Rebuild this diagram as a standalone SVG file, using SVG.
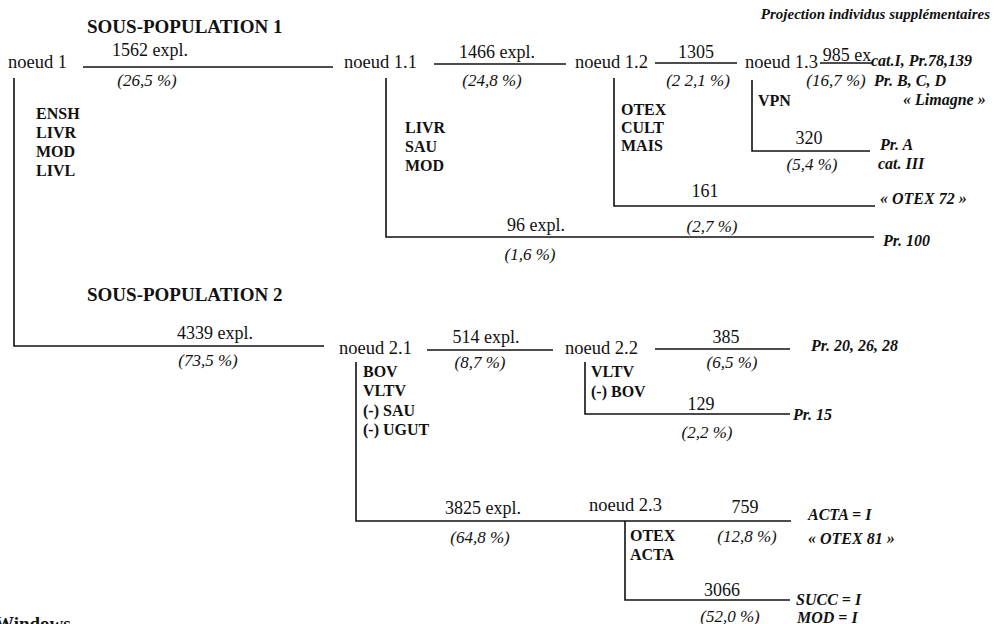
<svg xmlns="http://www.w3.org/2000/svg" width="994" height="624" viewBox="0 0 994 624" font-family="'Liberation Serif','Times New Roman',serif">
<style>
text{font-family:"Liberation Serif","Times New Roman",serif;fill:#111}
.n{font-size:18.5px}
.c{font-size:18px;text-anchor:middle}
.p{font-size:17px;font-style:italic;text-anchor:middle}
.v{font-size:16px;font-weight:bold}
.h{font-size:19px;font-weight:bold}
.r{font-size:16px;font-weight:bold;font-style:italic}
.ln{stroke:#111;stroke-width:1.6;fill:none}
</style>
<rect width="994" height="624" fill="#fff"/>
<g id="titles">
<text class="h" x="87" y="33">SOUS-POPULATION 1</text>
<text class="r" x="990" y="19" text-anchor="end" style="font-size:15px">Projection individus supplémentaires</text>
<text class="h" x="87" y="301">SOUS-POPULATION 2</text>
<text class="h" x="-5" y="630">Windows</text>
</g>
<g id="connectors" class="ln">
<path d="M83 67H333"/>
<path d="M14 78V346H324"/>
<path d="M434 64H566"/>
<path d="M386 78V237H874"/>
<path d="M655 63H737"/>
<path d="M614 78V206H875"/>
<path d="M820 63H872"/>
<path d="M752 80V151H870"/>
<path d="M427 350H553"/>
<path d="M356 362V521H791"/>
<path d="M655 349H790"/>
<path d="M585 362V414H790"/>
<path d="M625 521V600H790"/>
</g>
<g id="noeud1">
<text class="n" x="8" y="68">noeud 1</text>
<text class="c" x="150" y="56">1562 expl.</text>
<text class="p" x="147" y="86">(26,5 %)</text>
<text class="v" x="36" y="119">ENSH</text>
<text class="v" x="36" y="138">LIVR</text>
<text class="v" x="36" y="157">MOD</text>
<text class="v" x="36" y="176">LIVL</text>
</g>
<g id="noeud1_1">
<text class="n" x="344" y="68">noeud 1.1</text>
<text class="c" x="497" y="58">1466 expl.</text>
<text class="p" x="492" y="86">(24,8 %)</text>
<text class="v" x="405" y="133">LIVR</text>
<text class="v" x="405" y="152">SAU</text>
<text class="v" x="405" y="171">MOD</text>
<text class="c" x="536" y="231">96 expl.</text>
<text class="p" x="530" y="260">(1,6 %)</text>
<text class="r" x="883" y="246">Pr. 100</text>
</g>
<g id="noeud1_2">
<text class="n" x="575" y="68">noeud 1.2</text>
<text class="c" x="696" y="58">1305</text>
<text class="p" x="698" y="86">(2 2,1 %)</text>
<text class="v" x="621" y="115">OTEX</text>
<text class="v" x="621" y="133">CULT</text>
<text class="v" x="621" y="151">MAIS</text>
<text class="c" x="705" y="197">161</text>
<text class="p" x="712" y="232">(2,7 %)</text>
<text class="r" x="880" y="204">« OTEX 72 »</text>
</g>
<g id="noeud1_3">
<text class="n" x="745" y="68">noeud 1.3</text>
<text class="c" x="847" y="61">985 ex</text>
<text class="p" x="836" y="86">(16,7 %)</text>
<text class="r" x="871" y="66">cat.I, Pr.78,139</text>
<text class="r" x="874" y="86">Pr. B, C,  D</text>
<text class="r" x="903" y="105">« Limagne »</text>
<text class="v" x="758" y="106">VPN</text>
<text class="c" x="809" y="144">320</text>
<text class="p" x="812" y="170">(5,4 %)</text>
<text class="r" x="880" y="150">Pr. A</text>
<text class="r" x="878" y="169">cat. III</text>
</g>
<g id="noeud2">
<text class="c" x="215" y="339">4339 expl.</text>
<text class="p" x="208" y="366">(73,5 %)</text>
</g>
<g id="noeud2_1">
<text class="n" x="339" y="354">noeud 2.1</text>
<text class="c" x="486" y="343">514 expl.</text>
<text class="p" x="480" y="368">(8,7 %)</text>
<text class="v" x="363" y="377">BOV</text>
<text class="v" x="363" y="396">VLTV</text>
<text class="v" x="363" y="416">(-) SAU</text>
<text class="v" x="363" y="435">(-) UGUT</text>
<text class="c" x="483" y="514">3825 expl.</text>
<text class="p" x="480" y="543">(64,8 %)</text>
</g>
<g id="noeud2_2">
<text class="n" x="565" y="354">noeud 2.2</text>
<text class="c" x="726" y="343">385</text>
<text class="p" x="732" y="368">(6,5 %)</text>
<text class="r" x="811" y="351">Pr. 20, 26, 28</text>
<text class="v" x="591" y="377">VLTV</text>
<text class="v" x="591" y="397">(-) BOV</text>
<text class="c" x="701" y="410">129</text>
<text class="p" x="707" y="438">(2,2 %)</text>
<text class="r" x="793" y="420">Pr. 15</text>
</g>
<g id="noeud2_3">
<text class="n" x="589" y="511">noeud 2.3</text>
<text class="c" x="745" y="513">759</text>
<text class="p" x="747" y="542">(12,8 %)</text>
<text class="r" x="808" y="520">ACTA = I</text>
<text class="r" x="808" y="544">« OTEX 81 »</text>
<text class="v" x="630" y="541">OTEX</text>
<text class="v" x="630" y="560">ACTA</text>
<text class="c" x="722" y="596">3066</text>
<text class="p" x="730" y="622">(52,0 %)</text>
<text class="r" x="796" y="605">SUCC = I</text>
<text class="r" x="797" y="623">MOD = I</text>
</g>
</svg>
